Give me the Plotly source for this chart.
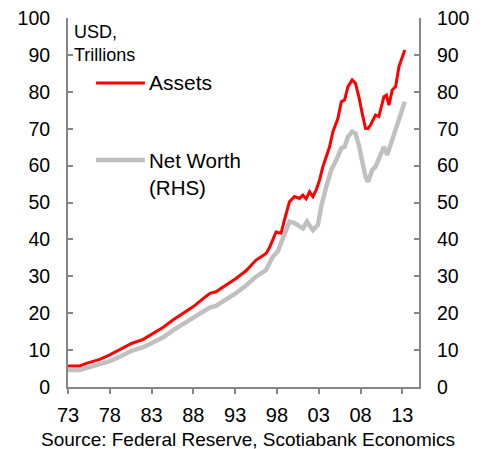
import plotly.graph_objects as go

# Household balance sheet, USD trillions
assets_years = [1973.0, 1974.4, 1975.2, 1976.8, 1978.0, 1979.2, 1980.6, 1982.0, 1983.2,
                1984.4, 1985.6, 1987.0, 1988.0, 1989.2, 1990.0, 1990.7, 1991.9, 1993.1,
                1994.3, 1995.5, 1996.7, 1997.1, 1997.9, 1998.5, 1998.9, 1999.5, 2000.1,
                2000.7, 2001.1, 2001.5, 2001.9, 2002.3, 2002.7, 2003.1, 2003.5, 2003.9,
                2004.3, 2004.7, 2005.3, 2005.7, 2006.1, 2006.5, 2007.0, 2007.4, 2007.8,
                2008.2, 2008.6, 2008.9, 2009.2, 2009.8, 2010.2, 2010.8, 2011.1, 2011.4,
                2011.8, 2012.2, 2012.6, 2013.3]
assets = [5.7, 5.7, 6.4, 7.5, 8.7, 10.2, 11.8, 12.9, 14.5,
          16.2, 18.2, 20.4, 21.8, 24.0, 25.4, 25.8, 27.6, 29.4,
          31.5, 34.4, 36.2, 37.7, 42.0, 41.7, 45.3, 50.2, 51.6,
          51.1, 52.0, 51.0, 52.9, 51.6, 53.4, 56.1, 59.7, 62.4,
          65.1, 69.2, 72.8, 77.3, 77.8, 81.4, 83.2, 82.3, 78.7,
          74.2, 70.1, 70.0, 71.0, 73.7, 73.3, 78.7, 79.1, 76.4,
          80.5, 81.4, 86.8, 91.3]

networth_years = [1973.0, 1974.4, 1976.8, 1978.0, 1979.2, 1980.6, 1982.0, 1983.2, 1984.4,
                  1985.6, 1987.0, 1988.0, 1989.2, 1990.0, 1990.7, 1991.9, 1993.1, 1994.3,
                  1995.5, 1996.7, 1997.5, 1998.1, 1999.0, 1999.5, 2000.1, 2000.7, 2001.1,
                  2001.6, 2002.3, 2002.9, 2003.3, 2003.9, 2004.5, 2005.1, 2005.7, 2006.1,
                  2006.5, 2007.0, 2007.4, 2007.8, 2008.2, 2008.6, 2008.9, 2009.4, 2009.8,
                  2010.8, 2011.2, 2011.8, 2012.4, 2012.8, 2013.3]
networth = [4.6, 4.6, 6.2, 7.0, 8.2, 9.8, 10.8, 12.0, 13.5,
            15.4, 17.4, 18.6, 20.4, 21.6, 22.0, 23.6, 25.4, 27.5,
            29.9, 31.7, 35.3, 36.7, 41.7, 44.8, 44.4, 43.5, 43.0,
            44.8, 42.5, 43.9, 48.9, 54.3, 58.8, 61.5, 64.7, 65.1,
            67.8, 69.2, 68.7, 65.6, 60.6, 57.0, 55.6, 58.8, 59.7,
            65.1, 62.9, 66.9, 70.5, 73.2, 77.3]

tick_years = [1973, 1978, 1983, 1988, 1993, 1998, 2003, 2008, 2013]
tick_labels = ['73', '78', '83', '88', '93', '98', '03', '08', '13']
value_ticks = [0, 10, 20, 30, 40, 50, 60, 70, 80, 90, 100]

FONT = 'Liberation Sans, Arial, sans-serif'
AXIS_GREY = '#868686'

fig = go.Figure()
fig.add_trace(go.Scatter(x=networth_years, y=networth, mode='lines', name='Net Worth (RHS)',
                         line=dict(color='#c0c0c0', width=4.5), yaxis='y2'))
fig.add_trace(go.Scatter(x=assets_years, y=assets, mode='lines', name='Assets',
                         line=dict(color='#ff0000', width=3), yaxis='y'))

yaxis_common = dict(range=[0, 100], tickvals=value_ticks, showgrid=False, zeroline=False,
                    showline=True, linecolor=AXIS_GREY, linewidth=2, automargin=False,
                    ticks='inside', ticklen=5, tickcolor=AXIS_GREY, tickwidth=1.5,
                    ticklabelstandoff=12, ticklabeloverflow='allow',
                    tickfont=dict(family=FONT, size=19.5, color='black'))

# page body has an 8px margin, so the figure is 8px smaller each way
fig.update_layout(
    width=484, height=441,
    margin=dict(l=60, r=73, t=10, b=62),
    plot_bgcolor='white', paper_bgcolor='white',
    showlegend=False,
    xaxis=dict(range=[1973, 2015], tickvals=tick_years, ticktext=tick_labels,
               showgrid=False, zeroline=False, showline=True, linecolor=AXIS_GREY,
               linewidth=2, ticks='outside', ticklen=5, tickcolor=AXIS_GREY, tickwidth=1.5,
               ticklabelstandoff=4, automargin=False,
               tickfont=dict(family=FONT, size=20, color='black')),
    yaxis=dict(side='left', **yaxis_common),
    yaxis2=dict(side='right', overlaying='y', **yaxis_common),
)

# legend drawn as labelled line samples inside the plot
fig.add_shape(type='line', xref='paper', yref='paper', x0=0.08, x1=0.219, y0=0.824, y1=0.824,
              line=dict(color='#ff0000', width=3))
fig.add_shape(type='line', xref='paper', yref='paper', x0=0.08, x1=0.219, y0=0.615, y1=0.615,
              line=dict(color='#c0c0c0', width=4.5))
fig.add_annotation(text='Assets', xref='paper', yref='paper', x=0.225, y=0.824,
                   xanchor='left', yanchor='middle', showarrow=False,
                   font=dict(family=FONT, size=21, color='black'))
fig.add_annotation(text='Net Worth<br>(RHS)', xref='paper', yref='paper', x=0.225, y=0.578,
                   xanchor='left', yanchor='middle', align='left', showarrow=False,
                   font=dict(family=FONT, size=20.5, color='black'))
fig.add_annotation(text='USD,<br>Trillions', xref='paper', yref='paper', x=0.012, y=0.93,
                   xanchor='left', yanchor='middle', align='left', showarrow=False,
                   font=dict(family=FONT, size=18, color='black'))
fig.add_annotation(text='Source: Federal Reserve, Scotiabank Economics', xref='paper',
                   yref='paper', x=0.514, y=-0.143, xanchor='center', yanchor='middle',
                   showarrow=False, font=dict(family=FONT, size=19, color='black'))

fig.write_html('out.html')
